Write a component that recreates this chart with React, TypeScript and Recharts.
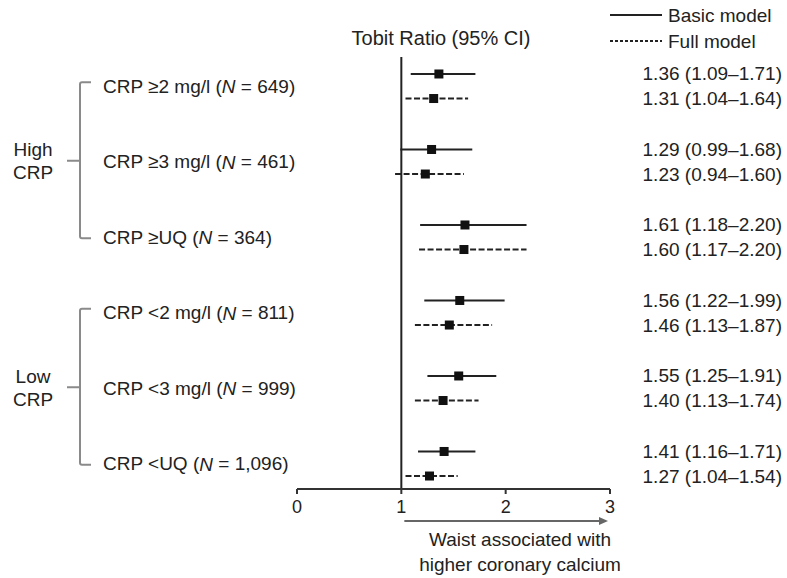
import React from "react";
import { ScatterChart, Scatter, XAxis, YAxis, ReferenceLine } from "recharts";

const groupLabels = ["CRP ≥2 mg/l", "CRP ≥3 mg/l", "CRP ≥UQ", "CRP <2 mg/l", "CRP <3 mg/l", "CRP <UQ"];
const groupN = ["649", "461", "364", "811", "999", "1,096"];
const bracketNames = [["High", "CRP"], ["Low", "CRP"]];

const basicRatio = [1.36, 1.29, 1.61, 1.56, 1.55, 1.41];
const basicLow = [1.09, 0.99, 1.18, 1.22, 1.25, 1.16];
const basicHigh = [1.71, 1.68, 2.2, 1.99, 1.91, 1.71];

const fullRatio = [1.31, 1.23, 1.6, 1.46, 1.4, 1.27];
const fullLow = [1.04, 0.94, 1.17, 1.13, 1.13, 1.04];
const fullHigh = [1.64, 1.6, 2.2, 1.87, 1.74, 1.54];

const xTicks = [0, 1, 2, 3];

const W = 787;
const H = 578;
const FONT = "'Liberation Sans', Arial, sans-serif";
const INK = "#222";

// y domain in row units: group g sits at y = g, full model a bit below
const FULL_OFFSET = 0.325;
const Y_MIN = -0.225;
const Y_MAX = 5.497;
const PLOT_TOP = 57;
const PLOT_BOTTOM = 489;
const ROW_PX = (PLOT_BOTTOM - PLOT_TOP) / (Y_MAX - Y_MIN);

const fmt = (r: number, lo: number, hi: number) =>
  `${r.toFixed(2)} (${lo.toFixed(2)}–${hi.toFixed(2)})`;

const basicPts = basicRatio.map((r, i) => ({ x: r, y: i }));
const fullPts = fullRatio.map((r, i) => ({ x: r, y: i + FULL_OFFSET }));

const groupTicks = groupLabels.map((_, i) => i + FULL_OFFSET / 2);
const rowTicks: number[] = [];
const rowText: string[] = [];
groupLabels.forEach((_, i) => {
  rowTicks.push(i, i + FULL_OFFSET);
  rowText.push(fmt(basicRatio[i], basicLow[i], basicHigh[i]));
  rowText.push(fmt(fullRatio[i], fullLow[i], fullHigh[i]));
});

function GroupTick(props: any) {
  const { y, index } = props;
  const label = groupLabels[index];
  let bracket = null;
  if (index % 3 === 1) {
    const top = y - ROW_PX - 4;
    const bottom = y + ROW_PX + 1;
    const names = bracketNames[Math.floor(index / 3)];
    bracket = (
      <g>
        <path
          d={`M91 ${top} H82 Q80 ${top} 80 ${top + 2} V${bottom - 2} Q80 ${bottom} 82 ${bottom} H91 M80 ${y - 1} H67`}
          fill="none"
          stroke="#8a8a8a"
          strokeWidth={2}
        />
        <text x={33} y={y - 12} textAnchor="middle" dominantBaseline="central" fontSize={19} fill={INK} fontFamily={FONT}>
          {names[0]}
        </text>
        <text x={33} y={y + 11} textAnchor="middle" dominantBaseline="central" fontSize={19} fill={INK} fontFamily={FONT}>
          {names[1]}
        </text>
      </g>
    );
  }
  return (
    <g>
      <text x={103} y={y} dominantBaseline="central" fontSize={19} fill={INK} fontFamily={FONT}>
        {label} (<tspan fontStyle="italic">N</tspan> = {groupN[index]})
      </text>
      {bracket}
    </g>
  );
}

function RowTick(props: any) {
  const { y, index } = props;
  return (
    <text x={782} y={y} textAnchor="end" dominantBaseline="central" fontSize={19} fill={INK} fontFamily={FONT}>
      {rowText[index]}
    </text>
  );
}

function ArrowLabel(props: any) {
  const vb = props.viewBox;
  const x0 = vb.x + vb.width / 3 + 3;
  const x1 = vb.x + vb.width - 2;
  const ay = 521;
  const cx = 520;
  return (
    <g>
      <line x1={x0} y1={ay} x2={x1 - 6} y2={ay} stroke="#666" strokeWidth={2} />
      <path d={`M${x1} ${ay} L${x1 - 9} ${ay - 4} L${x1 - 9} ${ay + 4} Z`} fill="#666" />
      <text x={cx} y={539} textAnchor="middle" dominantBaseline="central" fontSize={19} fill={INK} fontFamily={FONT}>
        Waist associated with
      </text>
      <text x={cx} y={564} textAnchor="middle" dominantBaseline="central" fontSize={19} fill={INK} fontFamily={FONT}>
        higher coronary calcium
      </text>
    </g>
  );
}

export default function App() {
  return (
    <div style={{ position: "absolute", left: 0, top: 0, width: W, height: H, background: "#fff", fontFamily: FONT }}>
      <ScatterChart
        width={W}
        height={H}
        margin={{ top: PLOT_TOP, left: 97, right: 0, bottom: H - PLOT_BOTTOM - 30 }}
      >
        <XAxis
          type="number"
          dataKey="x"
          domain={[0, 3]}
          ticks={xTicks}
          allowDataOverflow
          height={30}
          axisLine={{ stroke: "#333", strokeWidth: 2 }}
          tickLine={{ stroke: "#333", strokeWidth: 2 }}
          tickSize={5}
          tickMargin={6}
          tick={{ fill: INK, fontSize: 18, fontFamily: FONT }}
          label={{ content: (p: any) => <ArrowLabel {...p} /> }}
        />
        <YAxis
          yAxisId="left"
          type="number"
          dataKey="y"
          domain={[Y_MIN, Y_MAX]}
          reversed
          allowDataOverflow
          ticks={groupTicks}
          interval={0}
          width={200}
          axisLine={false}
          tickLine={false}
          tickSize={0}
          tick={<GroupTick />}
        />
        <YAxis
          yAxisId="right"
          orientation="right"
          type="number"
          domain={[Y_MIN, Y_MAX]}
          reversed
          allowDataOverflow
          ticks={rowTicks}
          interval={0}
          width={177}
          axisLine={false}
          tickLine={false}
          tickSize={0}
          tick={<RowTick />}
        />
        <ReferenceLine yAxisId="left" x={1} stroke={INK} strokeWidth={2} />
        {basicLow.map((lo, i) => (
          <ReferenceLine
            key={"b" + i}
            yAxisId="left"
            segment={[{ x: lo, y: i }, { x: basicHigh[i], y: i }]}
            stroke={INK}
            strokeWidth={2}
          />
        ))}
        {fullLow.map((lo, i) => (
          <ReferenceLine
            key={"f" + i}
            yAxisId="left"
            segment={[{ x: lo, y: i + FULL_OFFSET }, { x: fullHigh[i], y: i + FULL_OFFSET }]}
            stroke={INK}
            strokeWidth={2}
            strokeDasharray="6 2.5"
          />
        ))}
        <Scatter
          name="Basic model"
          yAxisId="left"
          data={basicPts}
          isAnimationActive={false}
          shape={(p: any) => <rect x={p.cx - 4.5} y={p.cy - 4.5} width={9} height={9} fill="#111" />}
        />
        <Scatter
          name="Full model"
          yAxisId="left"
          data={fullPts}
          isAnimationActive={false}
          shape={(p: any) => <rect x={p.cx - 4.5} y={p.cy - 4.5} width={9} height={9} fill="#111" />}
        />
      </ScatterChart>
      <svg width={W} height={H} style={{ position: "absolute", left: 0, top: 0, pointerEvents: "none" }}>
        <text x={441} y={38} textAnchor="middle" dominantBaseline="central" fontSize={20} fill={INK} fontFamily={FONT}>
          Tobit Ratio (95% CI)
        </text>
        <line x1={610} y1={15} x2={662} y2={15} stroke={INK} strokeWidth={2} />
        <text x={668} y={15} dominantBaseline="central" fontSize={19} fill={INK} fontFamily={FONT}>
          Basic model
        </text>
        <line x1={610} y1={41} x2={662} y2={41} stroke={INK} strokeWidth={2} strokeDasharray="3 2" />
        <text x={668} y={41} dominantBaseline="central" fontSize={19} fill={INK} fontFamily={FONT}>
          Full model
        </text>
      </svg>
    </div>
  );
}
